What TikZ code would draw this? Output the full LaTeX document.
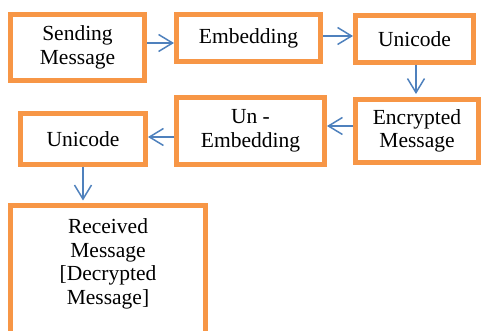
\documentclass[tikz,border=0pt]{standalone}
\usepackage{fontspec}
\setmainfont{Liberation Serif}
\usetikzlibrary{arrows.meta}

\definecolor{boxorange}{HTML}{F79646}
\definecolor{flowblue}{HTML}{4F81BD}

\tikzset{
  stage/.style={draw=boxorange, line width=5pt, fill=white, inner sep=0pt,
    align=center, font=\fontsize{21.5}{23.5}\selectfont},
  flow/.style={draw=flowblue, line width=1.5pt,
    -{Straight Barb[length=14pt,width=17pt,line width=1.5pt]}},
  caption/.style={align=center, inner sep=0pt,
    font=\fontsize{21.5}{23.5}\selectfont}
}

\begin{document}
\begin{tikzpicture}[x=1pt, y=-1pt]
  \useasboundingbox (0,0) rectangle (483,331);
  \clip (0,0) rectangle (483,331);

  % first row: sender side
  \node[stage, minimum width=134pt, minimum height=66pt] (send) at (77.5,47.5) {Sending\\Message};
  \node[stage, minimum width=144pt, minimum height=47pt] (embed) at (248.5,38) {Embedding};
  \node[stage, minimum width=118pt, minimum height=47pt] (uni1) at (414.5,39) {Unicode};

  % second row: receiver side
  \node[stage, minimum width=123pt, minimum height=63pt] (enc) at (417,131) {Encrypted\\Message};
  \node[stage, minimum width=148pt, minimum height=67pt] (unemb) at (250.5,131) {Un -\\Embedding};
  \node[stage, minimum width=125pt, minimum height=51pt] (uni2) at (83,139) {Unicode};

  % final box, running past the lower edge
  \node[stage, minimum width=195pt, minimum height=160pt, anchor=north] (recv) at (108,203.5) {};
  \node[caption] (recvtext) at (108,264) {Received\\Message\\{[}Decrypted\\Message{]}};

  % connectors
  \draw[flow] ([yshift=4.5pt]send.east) -- ([yshift=-5pt]embed.west);
  \draw[flow] ([yshift=2pt]embed.east) -- ([yshift=3pt]uni1.west);
  \draw[flow, shorten >=3pt] ([xshift=1.5pt]uni1.south) -- ([xshift=-1pt]enc.north);
  \draw[flow] ([yshift=5pt]enc.west) -- ([yshift=5pt]unemb.east);
  \draw[flow] ([yshift=-6pt]unemb.west) -- ([yshift=2pt]uni2.east);
  \draw[flow, shorten >=3pt] (uni2.south) -- ([xshift=-25pt]recv.north);
\end{tikzpicture}
\end{document}
